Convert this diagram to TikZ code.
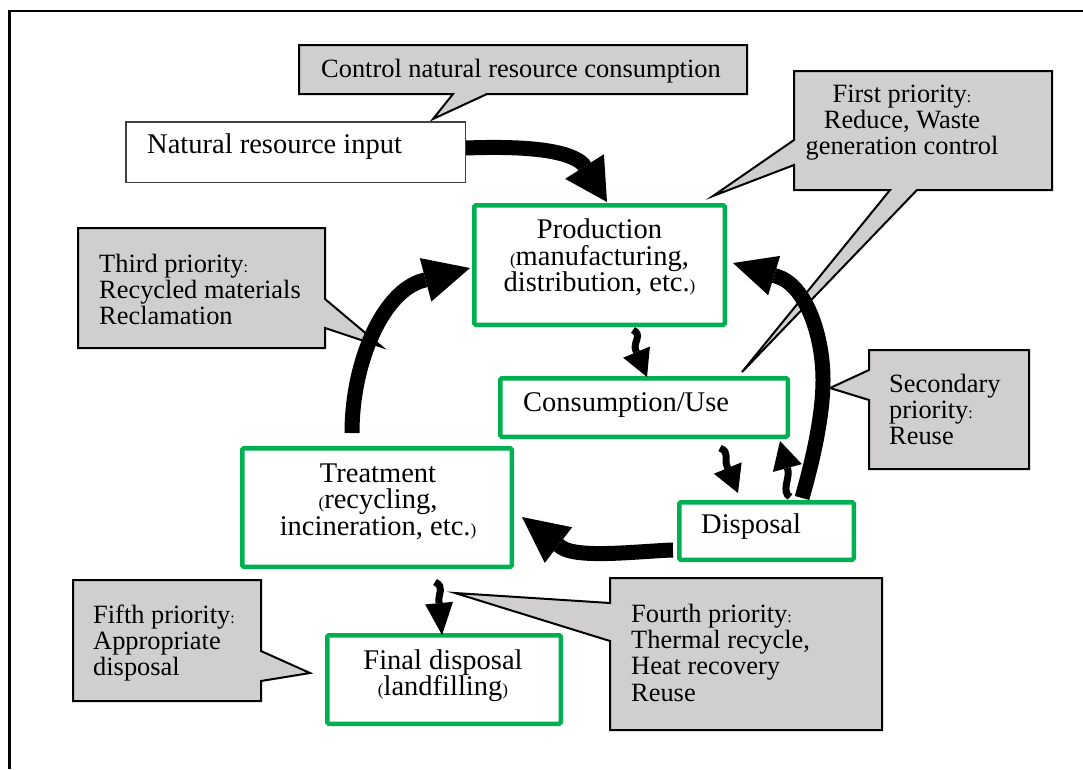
\documentclass[tikz,border=0pt]{standalone}
\usepackage{fontspec}
\setmainfont{Liberation Serif}
\usetikzlibrary{arrows.meta,backgrounds,calc}
\definecolor{boxgreen}{RGB}{0,176,80}
\definecolor{callgray}{RGB}{208,206,206}
\newcommand\hs{\rule{0pt}{22pt}}
\newcommand\smp[1]{{\fontsize{17}{17}\selectfont #1}}
\newcommand\smc{{\fontsize{16}{16}\selectfont :}}
\newcommand\bigfnt{\fontsize{28.5}{26.5}\selectfont\lineskiplimit-50pt\relax}
\newcommand\calfnt{\fontsize{26.4}{26.3}\selectfont\lineskiplimit-50pt\relax}
\begin{document}
\begin{tikzpicture}[x=1pt,y=-1pt,
 gbox/.style={draw=boxgreen,line width=4.5pt,rounded corners=1.5pt,inner sep=0pt},
 wbox/.style={draw=black!75,line width=1.5pt,fill=white,inner sep=0pt},
 btxt/.style={font=\bigfnt,inner sep=0pt},
 ctxt/.style={font=\calfnt,inner sep=0pt},
 callout/.style={fill=callgray,draw=black,line width=2pt,line join=miter},
 bigarr/.style 2 args={line width=15pt,-{Triangle[width=#1pt,length=#2pt,line width=0pt]}},
 smallarr/.style 2 args={line width=7pt,-{Triangle[width=#1pt,length=#2pt,line width=0pt]}}]
\useasboundingbox (0,0) rectangle (1083,769);

% boxes
\node[wbox,minimum width=339.5pt,minimum height=60.5pt] (nri) at (295.5,152) {};
\node[btxt,anchor=base west] (nrit) at (147,153) {Natural resource input};
\node[gbox,minimum width=250.5pt,minimum height=119.5pt] (prod) at (599.5,265) {};
\node[btxt,align=center,anchor=north] (prodt) at (599.5,216.5) {\hs Production\\\smp{(}manufacturing,\\distribution, etc.\smp{)}};
\node[gbox,minimum width=287.5pt,minimum height=58.5pt] (cons) at (644,407.5) {};
\node[btxt,anchor=base west] (const) at (523,411) {Consumption/Use};
\node[gbox,minimum width=174.5pt,minimum height=57.5pt] (disp) at (766.5,531) {};
\node[btxt,anchor=base west] (dispt) at (701,533) {Disposal};
\node[gbox,minimum width=269.5pt,minimum height=118.5pt] (treat) at (377,507.5) {};
\node[btxt,align=center,anchor=north] (treatt) at (378,460) {\hs Treatment\\\smp{(}recycling,\\incineration, etc.\smp{)}};
\node[gbox,minimum width=233.5pt,minimum height=88.5pt] (final) at (444,679.5) {};
\node[btxt,align=center,anchor=north] (finalt) at (443,647) {\hs Final disposal\\\smp{(}landfilling\smp{)}};

% callout texts
\node[ctxt,anchor=base west] (c0t) at (321,77) {Control natural resource consumption};
\node[ctxt,align=center,anchor=north] (c1t) at (902,80) {\hs First priority\smc\\Reduce, Waste\\generation control};
\node[ctxt,align=left,anchor=north west] (c2t) at (889,370) {\hs Secondary\\priority\smc\\Reuse};
\node[ctxt,align=left,anchor=north west] (c3t) at (99,250) {\hs Third priority\smc\\Recycled materials\\Reclamation};
\node[ctxt,align=left,anchor=north west] (c4t) at (631,600) {\hs Fourth priority\smc\\Thermal recycle,\\Heat recovery\\Reuse};
\node[ctxt,align=left,anchor=north west] (c5t) at (93,601) {\hs Fifth priority\smc\\Appropriate\\disposal};

% big arrows
\draw[bigarr={46}{42}] ($(nri.east)+(0,-4)$) .. controls (520,146) and (567,149) .. (582.9,164) -- ($(prod.north)+(7.5,-1)$);
\draw[bigarr={45}{46}] ($(treat.north)+(-25,-13)$) .. controls (352,360) and (384.1,290.9) .. (422.7,280.6) -- ($(prod.west)+(-2,3)$);
\draw[bigarr={41}{43}] ($(disp.north)+(35.5,-2)$) .. controls (810,470) and (823,420) .. (823,380) .. controls (823,335) and (805.7,285.1) .. (777,276.4) -- ($(prod.east)+(6,-2)$);
\draw[bigarr={45}{46}] ($(disp.west)+(-4,19)$) .. controls (640,551) and (576.6,559.1) .. (560.8,546.9) -- ($(treat.east)+(8,9.5)$);

% small arrows
\draw[smallarr={29}{27}] ($(prod.south)+(33.5,3)$) .. controls (643,335) and (632.6,342.7) .. (635.7,350.1) -- ($(cons.north)+(3,1)$);
\draw[smallarr={30}{27}] ($(cons.south)+(76,9)$) .. controls (730,452) and (724,458.8) .. (727,466.2) -- ($(disp.north)+(-28.5,-7)$);
\draw[smallarr={30}{28}] ($(disp.north)+(23.5,-3)$) .. controls (781,492) and (790,477.7) .. (787.9,470) -- ($(cons.south east)+(-10,2)$);
\draw[smallarr={28}{32}] ($(treat.south)+(58,13)$) .. controls (445,587) and (438.2,593.1) .. (438.9,601.1) -- ($(final.north)+(-2,2)$);

\begin{scope}[on background layer]
\fill[white] (0,0) rectangle (1083,769);
\draw[line width=2.5pt] (9.5,769) -- (9.5,11) -- (1083,11);
\draw[callout] (299,45) -- (747,45) -- (747,94) -- (487,94) -- (433,119) -- (453,94) -- (299,94) -- cycle;
\draw[callout] (794,71) -- (1052,71) -- (1052,190) -- (917,190) -- (742,372) -- (890,190) -- (794,190) -- (794,165) -- (713,196) -- (794,140) -- cycle;
\draw[callout] (869,350) -- (1029,350) -- (1029,469) -- (869,469) -- (869,400) -- (830,388) -- (869,370) -- cycle;
\draw[callout] (78,228) -- (325,228) -- (325,299) -- (382,347) -- (325,328) -- (325,348) -- (78,348) -- cycle;
\draw[callout] (610,578) -- (882,578) -- (882,730) -- (610,730) -- (610,641) -- (455,593) -- (610,603) -- cycle;
\draw[callout] (73,580) -- (261,580) -- (261,651) -- (310,673) -- (261,681) -- (261,701) -- (73,701) -- cycle;
\end{scope}
\end{tikzpicture}
\end{document}
